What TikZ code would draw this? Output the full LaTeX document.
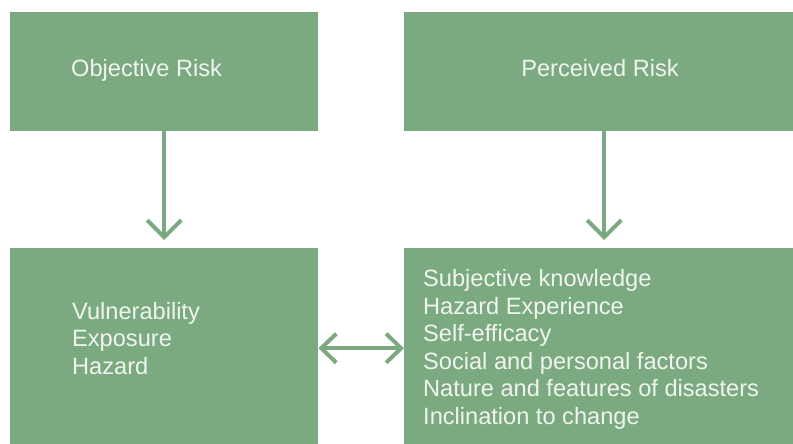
\documentclass[tikz,border=0pt]{standalone}
\usepackage{fontspec}
\setmainfont{Liberation Sans}
\usetikzlibrary{arrows.meta}
\definecolor{boxgreen}{RGB}{123,170,128}
\definecolor{boxtext}{RGB}{240,245,238}
\begin{document}
\begin{tikzpicture}[x=1pt,y=-1pt,
  greenbox/.style={fill=boxgreen, draw=none, inner sep=0pt, anchor=north west},
  boxlabel/.style={text=boxtext, inner sep=0pt, font=\fontsize{23.6}{27.5}\selectfont},
  connector/.style={draw=boxgreen, line width=4pt},
  downtip/.style={-{Straight Barb[length=17pt,width=34pt,line width=4pt]}},
  bothtip/.style={{Straight Barb[length=15pt,width=29pt,line width=4pt]}-{Straight Barb[length=15pt,width=29pt,line width=4pt]}}
]
\useasboundingbox (0,0) rectangle (793,444);
\node[greenbox, minimum width=308pt, minimum height=119pt] (tl) at (10,12) {};
\node[greenbox, minimum width=389pt, minimum height=119pt] (tr) at (404,12) {};
\node[greenbox, minimum width=308pt, minimum height=196pt] (bl) at (10,248) {};
\node[greenbox, minimum width=389pt, minimum height=196pt] (br) at (404,248) {};

\node[boxlabel, anchor=base west] (tltext) at (71,77) {Objective Risk};
\node[boxlabel, anchor=base] (trtext) at (600,77) {Perceived Risk};
\node[boxlabel, anchor=base west, align=left] (bltext) at (72,374) {Vulnerability\\Exposure\\Hazard};
\node[boxlabel, anchor=base west, align=left] (brtext) at (423,424) {Subjective knowledge\\Hazard Experience\\Self-efficacy\\Social and personal factors\\Nature and features of disasters\\Inclination to change};

\draw[connector, downtip, shorten >=8pt] (tl.south) -- (bl.north);
\draw[connector, downtip, shorten >=8pt] ([xshift=5.5pt]tr.south) -- ([xshift=5.5pt]br.north);
\draw[connector, bothtip] ([yshift=-2pt]bl.east) -- ([yshift=-2pt]br.west);
\end{tikzpicture}
\end{document}
